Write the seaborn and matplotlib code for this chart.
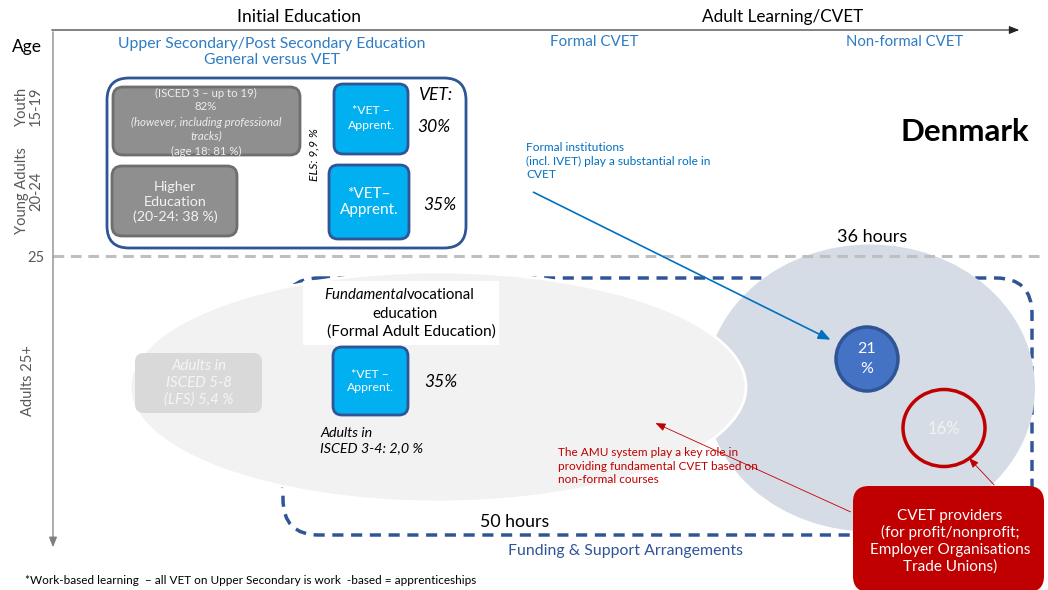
import matplotlib
matplotlib.use("Agg")
import matplotlib.pyplot as plt
import seaborn as sns
from matplotlib.patches import FancyBboxPatch, Ellipse

# ---------------- data (texts / values) ----------------
section_titles = ["Initial Education", "Adult Learning/CVET"]
column_headers = ["Upper Secondary/Post Secondary Education\nGeneral versus VET", "Formal CVET", "Non-formal CVET"]
age_labels = ["Youth\n15-19", "Young Adults\n20-24", "25", "Adults 25+"]
upper_general_lines = ["(ISCED 3 \u2013 up to 19)", "82%", "(however, including professional", "tracks)", "(age 18: 81 %)"]
higher_education = "Higher\nEducation\n(20-24: 38 %)"
vet_labels = ["*VET \u2013\nApprent.", "*VET\u2013\nApprent.", "*VET \u2013\nApprent."]
vet_shares = ["30%", "35%", "35%"]
els_label = "ELS: 9,9 %"
adults_high = "Adults in\nISCED 5-8\n(LFS) 5,4 %"
adults_mid = "Adults in\nISCED 3-4: 2,0 %"
formal_share = "21\n%"
nonformal_share = "16%"
hours = ["36 hours", "50 hours"]
country = "Denmark"
note_formal = "Formal institutions\n(incl. IVET) play a substantial role in\nCVET"
note_amu = "The AMU system play a key role in\nproviding fundamental CVET based on\nnon-formal courses"
providers = "CVET providers\n(for profit/nonprofit;\nEmployer Organisations\nTrade Unions)"
funding = "Funding & Support Arrangements"
footnote = "*Work-based learning  \u2013 all VET on Upper Secondary is work  -based = apprenticeships"

sns.set_theme(style="white")
plt.rcParams['font.family'] = ['Lato', 'DejaVu Sans']

W, H = 1048, 590
fig = plt.figure(figsize=(W / 100, H / 100), dpi=100)
ax = fig.add_axes([0, 0, 1, 1])
ax.set_xlim(0, W)
ax.set_ylim(H, 0)
ax.axis("off")

BLUE_TXT = "#2E7CC4"
DARK = "#2F5597"
CYAN = "#00B0F0"
RED = "#C00000"
GRAY_TXT = "#595959"

def rbox(x0, y0, x1, y1, fc, ec="none", lw=0, r=10, z=2, ls="-"):
    p = FancyBboxPatch((x0, y0), x1 - x0, y1 - y0,
                       boxstyle=f"round,pad=0,rounding_size={r}",
                       fc=fc, ec=ec, lw=lw, zorder=z, linestyle=ls)
    ax.add_patch(p)
    return p

# ---------------- background shapes ----------------
rbox(283, 278, 1032, 535, "none", DARK, 2.5, r=36, z=1, ls=(0, (3.2, 2.2)))
ax.add_patch(Ellipse((870, 388), 330, 287, fc="#D6DCE5", ec="none", zorder=2))
ax.add_patch(Ellipse((438, 387), 616, 230, fc="#F2F2F2", ec="white", lw=2, zorder=3))

# gray dashed age-25 line
ax.plot([53, 1045], [256, 256], color="#BFBFBF", lw=2.2, ls=(0, (3.5, 2.2)), zorder=4)

# axes arrows
ax.annotate("", xy=(1022, 30), xytext=(49, 30),
            arrowprops=dict(arrowstyle="-|>,head_length=0.5,head_width=0.2", color="#222222", lw=0.8), zorder=5)
ax.annotate("", xy=(53, 550), xytext=(53, 29),
            arrowprops=dict(arrowstyle="-|>,head_length=0.5,head_width=0.2", color="#7F7F7F", lw=0.9), zorder=5)

# ---------------- headers ----------------
ax.text(299, 17, section_titles[0], ha="center", va="center", fontsize=12.6, color="black")
ax.text(783, 17, section_titles[1], ha="center", va="center", fontsize=12.3, color="black")
ax.text(27, 47, "Age", ha="center", va="center", fontsize=12.5, color="black")
ax.text(272, 52, column_headers[0], ha="center", va="center", fontsize=11.3, color=BLUE_TXT, linespacing=1.2)
ax.text(594, 42, column_headers[1], ha="center", va="center", fontsize=10.9, color=BLUE_TXT)
ax.text(905, 42, column_headers[2], ha="center", va="center", fontsize=10.7, color=BLUE_TXT)

# age labels
ax.text(29, 106, age_labels[0], ha="center", va="center", rotation=90, fontsize=10.5, color=GRAY_TXT, linespacing=1.0)
ax.text(29, 191, age_labels[1], ha="center", va="center", rotation=90, fontsize=10.5, color=GRAY_TXT, linespacing=1.0)
ax.text(36, 258, age_labels[2], ha="center", va="center", fontsize=10.5, color=GRAY_TXT)
ax.text(28, 381, age_labels[3], ha="center", va="center", rotation=90, fontsize=10.5, color=GRAY_TXT)

# ---------------- initial education block ----------------
rbox(107, 78, 466, 248, "white", DARK, 2, r=22, z=5)
rbox(113, 87, 300, 155, "#8F8F8F", "#6E6E6E", 2, r=10, z=6)
ys = [93, 107, 122, 136, 151]
for line, y in zip(upper_general_lines, ys):
    st = "italic" if ("however" in line or "tracks" in line) else "normal"
    ax.text(206, y, line, ha="center", va="center", fontsize=8.2, color="#EDEDED", style=st, zorder=7)
rbox(112, 166, 237, 236, "#8F8F8F", "#6E6E6E", 2, r=10, z=6)
ax.text(175, 202, higher_education, ha="center", va="center", fontsize=10.3, color="#F2F2F2", linespacing=1.28, zorder=7)

rbox(334, 84, 408, 154, CYAN, DARK, 2, r=9, z=6)
ax.text(371, 118, vet_labels[0], ha="center", va="center", fontsize=8.8, color="white", linespacing=1.36, zorder=7)
rbox(329, 165, 409, 239, CYAN, DARK, 2, r=9, z=6)
ax.text(369, 202, vet_labels[1], ha="center", va="center", fontsize=11, color="white", linespacing=1.24, zorder=7)

ax.text(435, 95, "VET:", ha="center", va="center", fontsize=12.5, style="italic", color="black", zorder=7)
ax.text(434, 127, vet_shares[0], ha="center", va="center", fontsize=12.5, style="italic", color="black", zorder=7)
ax.text(440, 205, vet_shares[1], ha="center", va="center", fontsize=12.5, style="italic", color="black", zorder=7)
ax.text(314, 155, els_label, ha="center", va="center", rotation=90, fontsize=8.7, style="italic", color="black", zorder=7)

# ---------------- adult block ----------------
rbox(303, 281, 499, 345, "white", z=6, r=0)
ax.text(407, 295, "Fundamental", ha="right", va="center", fontsize=10.8, style="italic", color="black", zorder=7)
ax.text(407, 295, "vocational", ha="left", va="center", fontsize=10.8, color="black", zorder=7)
ax.text(405, 314, "education", ha="center", va="center", fontsize=10.8, color="black", zorder=7)
ax.text(411, 332, "(Formal Adult Education)", ha="center", va="center", fontsize=11.2, color="black", zorder=7)

rbox(333, 347, 408, 415, CYAN, DARK, 2, r=9, z=6)
ax.text(370, 381, vet_labels[2], ha="center", va="center", fontsize=8.8, color="white", linespacing=1.3, zorder=7)
ax.text(441, 382, vet_shares[2], ha="center", va="center", fontsize=12.5, style="italic", color="black", zorder=7)
ax.text(320, 441, adults_mid, ha="left", va="center", fontsize=10.3, style="italic", color="black", linespacing=1.32, zorder=7)

rbox(135, 353, 262, 413, "#D9D9D9", r=9, z=6)
ax.text(199, 383, adults_high, ha="center", va="center", fontsize=10.8, style="italic", color="#F5F5F5", linespacing=1.24, zorder=7)

# circles
ax.add_patch(Ellipse((867, 359), 62, 64, fc="#4472C4", ec=DARK, lw=2.5, zorder=6))
ax.text(867, 359, formal_share, ha="center", va="center", fontsize=11.5, color="white", linespacing=1.55, zorder=7)
ax.add_patch(Ellipse((944, 428), 82, 77, fc="none", ec=RED, lw=2.5, zorder=6))
ax.text(944, 429, nonformal_share, ha="center", va="center", fontsize=12, color="#F2F2F2", zorder=7)

ax.text(872, 237, hours[0], ha="center", va="center", fontsize=13, color="black", zorder=7)
ax.text(515, 522, hours[1], ha="center", va="center", fontsize=12.8, color="black", zorder=7)
ax.text(625, 551, funding, ha="center", va="center", fontsize=11.4, color=DARK, zorder=7)
ax.text(965, 132, country, ha="center", va="center", fontsize=22.5, fontweight="bold", color="black", zorder=7)

# notes & arrows
ax.text(526, 161, note_formal, ha="left", va="center", fontsize=8.6, color="#0070C0", linespacing=1.3, zorder=7)
ax.annotate("", xy=(833, 341), xytext=(531, 191),
            arrowprops=dict(arrowstyle="-|>,head_length=0.6,head_width=0.25", color="#0070C0", lw=1.2), zorder=8)
ax.text(558, 466, note_amu, ha="left", va="center", fontsize=8.5, color=RED, linespacing=1.32, zorder=7)
ax.annotate("", xy=(653, 422), xytext=(853, 513),
            arrowprops=dict(arrowstyle="-|>,head_length=0.5,head_width=0.2", color=RED, lw=0.6), zorder=8)
ax.annotate("", xy=(967, 456), xytext=(996, 487),
            arrowprops=dict(arrowstyle="-|>,head_length=0.5,head_width=0.2", color=RED, lw=0.6), zorder=8)

rbox(853, 486, 1044, 592, RED, r=16, z=9)
ax.text(950, 541, providers, ha="center", va="center", fontsize=11, color="white", linespacing=1.22, zorder=10)

ax.text(25, 580, footnote, ha="left", va="center", fontsize=8.5, color="black", zorder=7)

fig.savefig("out.png", dpi=100)
